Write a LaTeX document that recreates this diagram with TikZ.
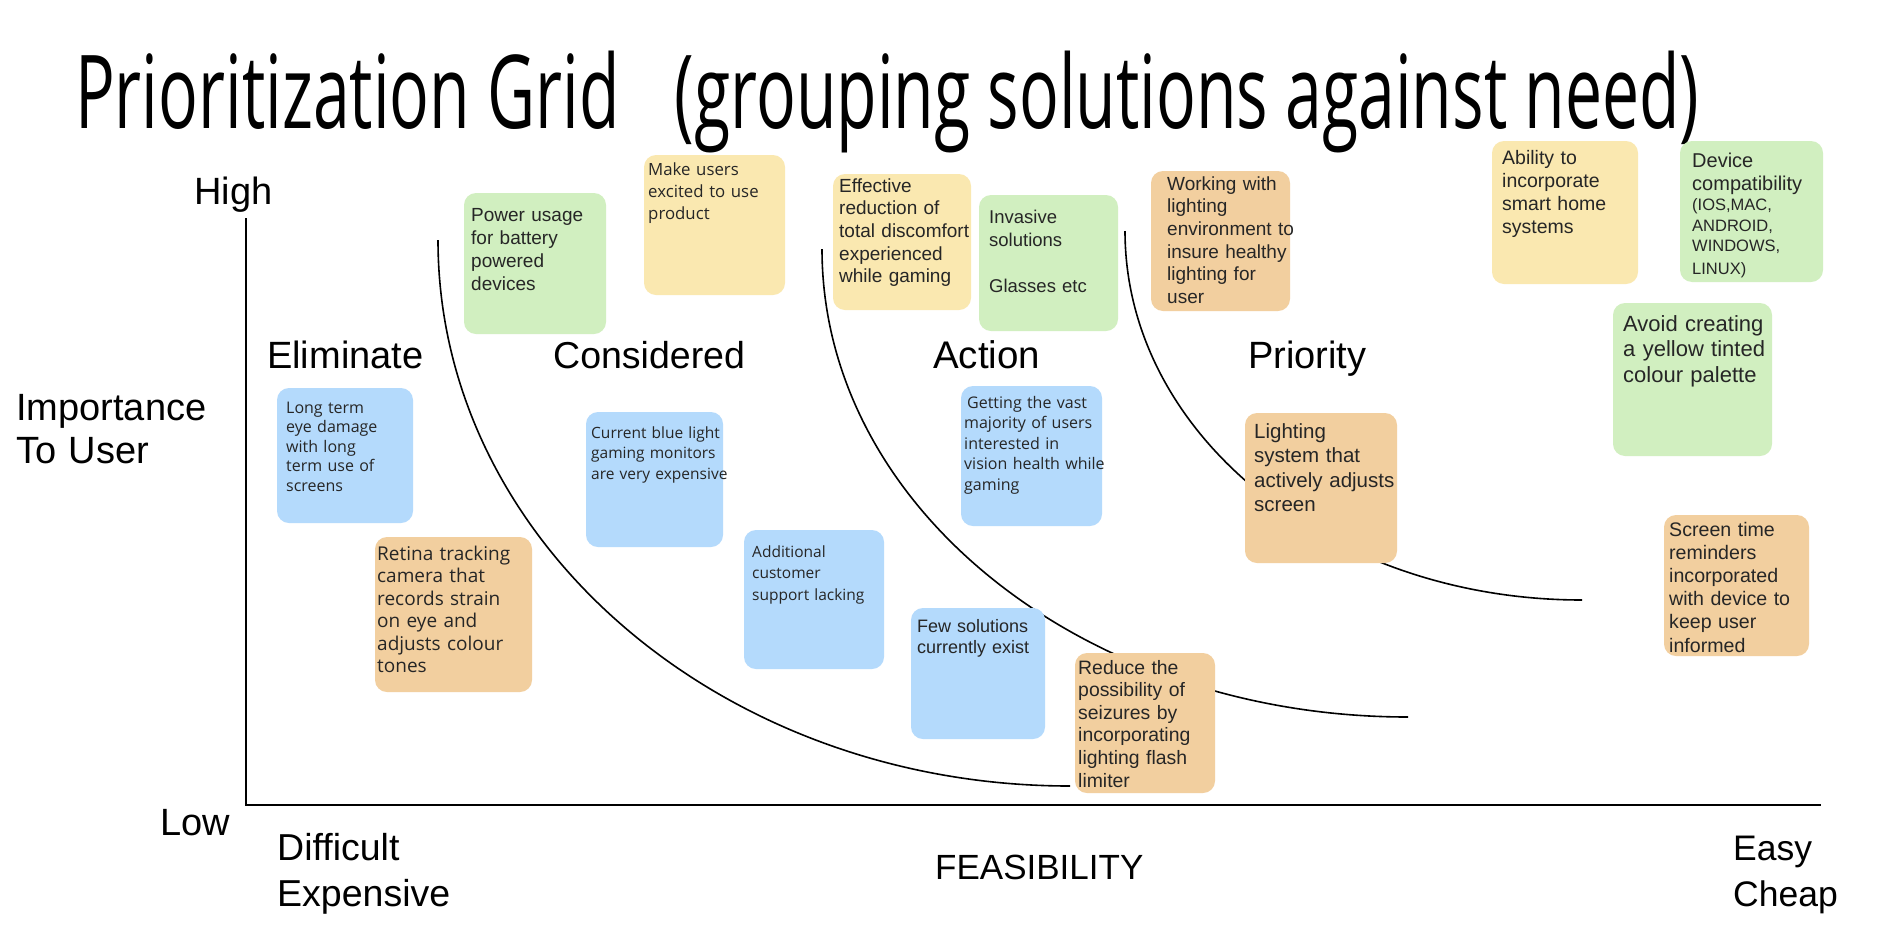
\documentclass[tikz,border=0pt]{standalone}
\usepackage{fontspec}
\usepackage{graphicx}
\setmainfont{Liberation Sans}
\newfontfamily\osans{Open Sans}
\newfontfamily\lsans{Liberation Sans}
\newfontfamily\titlefont{Open Sans}
\definecolor{nblue}{HTML}{B4DAFC}
\definecolor{ngreen}{HTML}{D1EFC0}
\definecolor{nyellow}{HTML}{FAE8B0}
\definecolor{norange}{HTML}{F2CF9F}
\definecolor{ntext}{HTML}{262626}
\newcommand\stickybox[6]{\node[notebox, fill=#6, minimum width={(#4-#2)*1pt}, minimum height={(#5-#3)*1pt}] (#1) at (#2,#3) {};}
\begin{document}
\begin{tikzpicture}[x=1pt, y=-1pt,
  notebox/.style={rounded corners=12pt, inner sep=0pt, outer sep=0pt, anchor=north west, draw=none},
  notetext/.style={anchor=base west, inner sep=0pt, align=left, text width=220pt, text=ntext},
  lbl/.style={anchor=base west, inner sep=0pt, align=left, text width=300pt},
  divider/.style={line width=1.6pt, black},
  axisline/.style={line width=2pt, black}]
\fill[white] (0,0) rectangle (1903,951);
\useasboundingbox (0,0) rectangle (1903,951);

% title
\node[anchor=base west, inner sep=0pt] (title) at (75,128) {\titlefont\fontsize{102}{110}\selectfont\sbox0{Prioritization Grid\hspace{85pt}(grouping solutions against need)}\resizebox{1624pt}{\ht0}{\usebox0}};

% axes
\coordinate (ytop) at (246,218);
\coordinate (origin) at (246,805);
\coordinate (xend) at (1821,805);
\draw[axisline] (ytop) -- (origin) -- (xend);

% dividing curves
\coordinate (ca) at (438,240);
\coordinate (cb) at (822,249);
\coordinate (cc) at (1125,231);
\draw[divider] (ca) arc[start angle=180, end angle=90, x radius=632, y radius=546];
\draw[divider] (cb) arc[start angle=180, end angle=90, x radius=586, y radius=468];
\draw[divider] (cc) arc[start angle=180, end angle=90, x radius=457, y radius=369];

% axis labels
\node[lbl, font=\fontsize{38}{43.6}\selectfont] (high) at (194,204) {High};
\node[lbl, font=\fontsize{38}{43.6}\selectfont] (imp) at (16,420) {Importance\\To User};
\node[lbl, font=\fontsize{38}{43.6}\selectfont] (low) at (160,835) {Low};
\node[lbl, font=\fontsize{37.5}{46.2}\selectfont] (diff) at (277,860.5) {Difficult\\Expensive};
\node[lbl, font=\fontsize{35}{42}\selectfont] (feas) at (935,879) {FEASIBILITY};
\node[lbl, font=\fontsize{35.5}{46.2}\selectfont] (easy) at (1733,860.5) {Easy\\Cheap};

% zone labels
\node[lbl, font=\fontsize{38}{44}\selectfont] (elim) at (267,368) {Eliminate};
\node[lbl, font=\fontsize{37.5}{44}\selectfont] (cons) at (553,368) {Considered};
\node[lbl, font=\fontsize{38.5}{44}\selectfont] (act) at (933,368) {Action};
\node[lbl, font=\fontsize{38}{44}\selectfont] (prio) at (1248,368) {Priority};

% sticky notes
\stickybox{n1}{464}{193}{606}{334}{ngreen}
\node[notetext, font=\lsans\fontsize{19}{23}\selectfont] (t1) at (471,221.7) {Power usage\\for battery\\powered\\devices};

\stickybox{n2}{644}{155}{785}{295}{nyellow}
\node[notetext, font=\osans\fontsize{16.8}{22}\selectfont] (t2) at (648,175) {Make users\\excited to use\\product};

\stickybox{n3}{833}{174}{971}{310}{nyellow}
\node[notetext, font=\lsans\fontsize{19}{22.7}\selectfont] (t3) at (839,192) {Effective\\reduction of\\total discomfort\\experienced\\while gaming};

\stickybox{n4}{979}{195}{1118}{331}{ngreen}
\node[notetext, font=\lsans\fontsize{18.5}{23}\selectfont] (t4) at (989,223) {Invasive\\solutions\\\mbox{}\\Glasses etc};

\stickybox{n5}{1151}{171}{1290}{311}{norange}
\node[notetext, font=\lsans\fontsize{19}{22.7}\selectfont] (t5) at (1167,190) {Working with\\lighting\\environment to\\insure healthy\\lighting for\\user};

\stickybox{n6}{1492}{141}{1638}{284}{nyellow}
\node[notetext, font=\lsans\fontsize{19.5}{23.3}\selectfont] (t6) at (1502,164) {Ability to\\incorporate\\smart home\\systems};

\stickybox{n7}{1680}{141}{1823}{282}{ngreen}
\node[notetext, font=\lsans\fontsize{20}{22.5}\selectfont] (t7) at (1692,167.5) {Device\\compatibility\par\fontsize{16.5}{20.5}\selectfont (IOS,MAC,\\ANDROID,\\WINDOWS,\\LINUX)};

\stickybox{n8}{1613}{303}{1772}{456}{ngreen}
\node[notetext, font=\lsans\fontsize{22}{25.7}\selectfont] (t8) at (1623,331) {Avoid creating\\a yellow tinted\\colour palette};

\stickybox{n9}{277}{388}{413}{523}{nblue}
\node[notetext, font=\osans\fontsize{16}{19.5}\selectfont] (t9) at (286,413) {Long term\\eye damage\\with long\\term use of\\screens};

\stickybox{n10}{586}{412}{723}{547}{nblue}
\node[notetext, font=\osans\fontsize{15.5}{20.5}\selectfont] (t10) at (591,438) {Current blue light\\gaming monitors\\are very expensive};

\stickybox{n11}{961}{386}{1102}{526}{nblue}
\node[notetext, font=\osans\fontsize{16}{20.5}\selectfont] (t11) at (964,408) {\hspace{3pt}Getting the vast\\majority of users\\interested in\\vision health while\\gaming};

\stickybox{n12}{1245}{413}{1397}{563}{norange}
\node[notetext, font=\lsans\fontsize{20.5}{24.5}\selectfont] (t12) at (1254,438) {Lighting\\system that\\actively adjusts\\screen};

\stickybox{n13}{375}{537}{532}{692}{norange}
\node[notetext, font=\osans\fontsize{19}{22.5}\selectfont] (t13) at (377,560) {Retina tracking\\camera that\\records strain\\on eye and\\adjusts colour\\tones};

\stickybox{n14}{744}{530}{884}{669}{nblue}
\node[notetext, font=\osans\fontsize{15.5}{21.5}\selectfont] (t14) at (752,557) {Additional\\customer\\support lacking};

\stickybox{n15}{911}{608}{1045}{739}{nblue}
\node[notetext, font=\lsans\fontsize{18}{21.5}\selectfont] (t15) at (917,632) {Few solutions\\currently exist};

\stickybox{n16}{1075}{653}{1215}{793}{norange}
\node[notetext, font=\lsans\fontsize{19.4}{22.6}\selectfont] (t16) at (1078,674) {Reduce the\\possibility of\\seizures by\\incorporating\\lighting flash\\limiter};

\stickybox{n17}{1664}{515}{1809}{656}{norange}
\node[notetext, font=\lsans\fontsize{19.6}{23.2}\selectfont] (t17) at (1669,536) {Screen time\\reminders\\incorporated\\with device to\\keep user\\informed};
\end{tikzpicture}
\end{document}
